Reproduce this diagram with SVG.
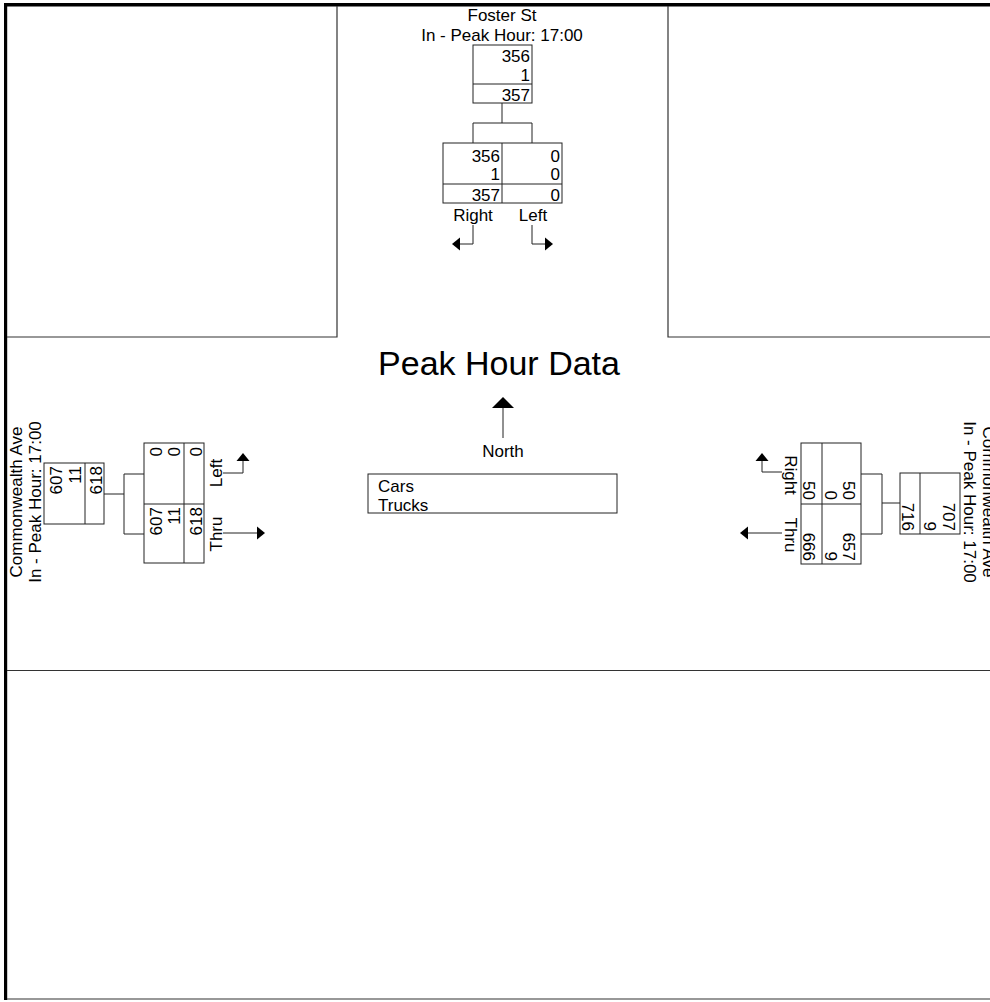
<svg xmlns="http://www.w3.org/2000/svg" width="990" height="1002" viewBox="0 0 990 1002">
<style>
text{font-family:"Liberation Sans",Arial,sans-serif;font-size:17px;fill:#000}
.e{text-anchor:end}
.m{text-anchor:middle}
.bx{fill:none;stroke:#222;stroke-width:1}
.ln{fill:none;stroke:#222;stroke-width:1}
.fr{fill:none;stroke:#333;stroke-width:1.2}
.ah{fill:#000;stroke:none}
</style>
<rect width="990" height="1002" fill="#fff"/>
<g id="frame">
<line x1="4" y1="4.8" x2="990" y2="4.8" stroke="#000" stroke-width="3.6"/>
<line x1="5.6" y1="3" x2="5.6" y2="1000" stroke="#000" stroke-width="3.2"/>
<polyline class="fr" points="337,6 337,337 7,337"/>
<polyline class="fr" points="668,6 668,337 990,337"/>
<line class="fr" x1="7" y1="670.5" x2="990" y2="670.5" stroke="#777"/>
<line class="fr" x1="7" y1="999" x2="990" y2="999"/>
</g>
<g id="title">
<text class="m" x="499" y="375" style="font-size:34px">Peak Hour Data</text>
</g>
<g id="north">
<line class="ln" x1="503" y1="407" x2="503" y2="438"/>
<polygon class="ah" points="503,397 492,408 514,408"/>
<text class="m" x="503" y="457">North</text>
</g>
<g id="legend">
<rect class="bx" x="368" y="474" width="249" height="39"/>
<text x="378" y="492">Cars</text>
<text x="378" y="511">Trucks</text>
</g>
<g id="foster-st">
<text class="m" x="502" y="21">Foster St</text>
<text class="m" x="502" y="41">In - Peak Hour: 17:00</text>
<rect class="bx" x="473" y="45" width="59" height="58"/>
<line class="ln" x1="473" y1="84" x2="532" y2="84"/>
<text class="e" x="530" y="62">356</text>
<text class="e" x="530" y="81">1</text>
<text class="e" x="530" y="101">357</text>
<rect class="bx" x="443" y="143" width="119" height="60"/>
<line class="ln" x1="502" y1="143" x2="502" y2="203"/>
<line class="ln" x1="443" y1="184" x2="562" y2="184"/>
<text class="e" x="500" y="162">356</text>
<text class="e" x="500" y="180">1</text>
<text class="e" x="500" y="201">357</text>
<text class="e" x="560" y="162">0</text>
<text class="e" x="560" y="180">0</text>
<text class="e" x="560" y="201">0</text>
<text class="m" x="473" y="221">Right</text>
<text class="m" x="533" y="221">Left</text>
</g>
<g id="commonwealth-west">
<text class="m" transform="translate(22,502) rotate(-90)">Commonwealth Ave</text>
<text class="m" transform="translate(41,502) rotate(-90)">In - Peak Hour: 17:00</text>
<rect class="bx" x="44" y="463" width="60" height="61"/>
<line class="ln" x1="85" y1="463" x2="85" y2="524"/>
<text class="e" transform="translate(62,466) rotate(-90)">607</text>
<text class="e" transform="translate(81,466) rotate(-90)">11</text>
<text class="e" transform="translate(102,466) rotate(-90)">618</text>
<rect class="bx" x="144" y="443" width="60" height="120"/>
<line class="ln" x1="184" y1="443" x2="184" y2="563"/>
<line class="ln" x1="144" y1="504" x2="204" y2="504"/>
<text class="e" transform="translate(162,447) rotate(-90)">0</text>
<text class="e" transform="translate(180,447) rotate(-90)">0</text>
<text class="e" transform="translate(202,447) rotate(-90)">0</text>
<text class="e" transform="translate(162,507) rotate(-90)">607</text>
<text class="e" transform="translate(180,507) rotate(-90)">11</text>
<text class="e" transform="translate(202,507) rotate(-90)">618</text>
<text class="m" transform="translate(222,473) rotate(-90)">Left</text>
<text class="m" transform="translate(222,534) rotate(-90)">Thru</text>
</g>
<g id="commonwealth-east">
<text class="m" transform="translate(964,502) rotate(90)">In - Peak Hour: 17:00</text>
<text class="m" transform="translate(983,502) rotate(90)">Commonwealth Ave</text>
<rect class="bx" x="900" y="473" width="60" height="61"/>
<line class="ln" x1="920" y1="473" x2="920" y2="534"/>
<text class="e" transform="translate(943,531) rotate(90)">707</text>
<text class="e" transform="translate(924,531) rotate(90)">9</text>
<text class="e" transform="translate(902,531) rotate(90)">716</text>
<rect class="bx" x="801" y="443" width="60" height="121"/>
<line class="ln" x1="822" y1="443" x2="822" y2="564"/>
<line class="ln" x1="801" y1="504" x2="861" y2="504"/>
<text class="e" transform="translate(843,500) rotate(90)">50</text>
<text class="e" transform="translate(825,500) rotate(90)">0</text>
<text class="e" transform="translate(803,500) rotate(90)">50</text>
<text class="e" transform="translate(843,561) rotate(90)">657</text>
<text class="e" transform="translate(825,561) rotate(90)">9</text>
<text class="e" transform="translate(803,561) rotate(90)">666</text>
<text class="m" transform="translate(785,475) rotate(90)">Right</text>
<text class="m" transform="translate(785,535) rotate(90)">Thru</text>
</g>
<g id="connectors">
<line class="ln" x1="502" y1="103" x2="502" y2="123"/>
<polyline class="ln" points="473,143 473,123 532,123 532,143"/>
<polyline class="ln" points="473,225 473,244 460,244"/>
<polygon class="ah" points="452,244 460,237.5 460,250.5"/>
<polyline class="ln" points="532,225 532,244 545,244"/>
<polygon class="ah" points="553,244 545,237.5 545,250.5"/>
<line class="ln" x1="104" y1="494" x2="124" y2="494"/>
<polyline class="ln" points="144,474 124,474 124,534 144,534"/>
<polyline class="ln" points="223,473 243,473 243,461"/>
<polygon class="ah" points="243,453 236.5,461 249.5,461"/>
<line class="ln" x1="223" y1="533" x2="257" y2="533"/>
<polygon class="ah" points="265,533 257,526.5 257,539.5"/>
<line class="ln" x1="900" y1="503" x2="882" y2="503"/>
<polyline class="ln" points="861,474 882,474 882,534 861,534"/>
<polyline class="ln" points="782,472 762,472 762,461"/>
<polygon class="ah" points="762,453 755.5,461 768.5,461"/>
<line class="ln" x1="782" y1="533" x2="748" y2="533"/>
<polygon class="ah" points="740,533 748,526.5 748,539.5"/>
</g>
</svg>
